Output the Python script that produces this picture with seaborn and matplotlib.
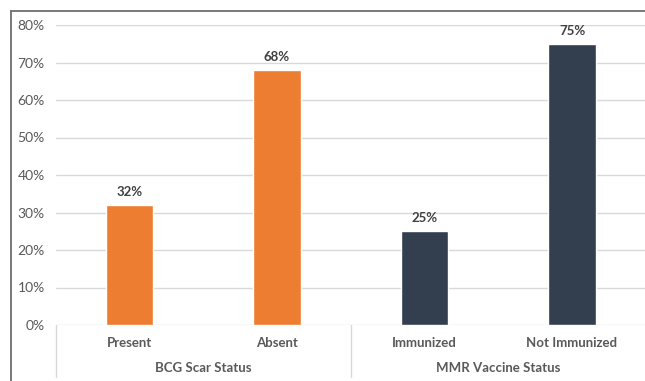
import numpy as np
import pandas as pd
import matplotlib
matplotlib.use("Agg")
import matplotlib.pyplot as plt
from matplotlib.lines import Line2D
import matplotlib.transforms as mtransforms
import seaborn as sns

# dados do grafico
categorias = ["Present", "Absent", "Immunized", "Not Immunized"]
valores = [0.32, 0.68, 0.25, 0.75]
grupos = ["BCG Scar Status", "BCG Scar Status", "MMR Vaccine Status", "MMR Vaccine Status"]
nomes_grupos = ["BCG Scar Status", "MMR Vaccine Status"]
cores = {"BCG Scar Status": "#ED7D31", "MMR Vaccine Status": "#333F4F"}
yticks = [0, 0.1, 0.2, 0.3, 0.4, 0.5, 0.6, 0.7, 0.8]

df = pd.DataFrame({"categoria": categorias, "valor": valores, "grupo": grupos})

sns.set_style("white")
plt.rcParams["font.family"] = ["Lato", "DejaVu Sans"]

W, H = 645, 381
fig = plt.figure(figsize=(W / 100, H / 100), dpi=100)
ax = fig.add_axes([55.75 / W, 56 / H, 590 / W, 300 / H])

sns.barplot(data=df, x="categoria", y="valor", hue="grupo", palette=cores,
            dodge=False, width=0.32, legend=False, ax=ax, saturation=1)

ax.set_xlim(-0.5, 3.5)
ax.set_ylim(0, 0.8)
ax.set_yticks(yticks)
ax.set_yticklabels([f"{int(round(t * 100))}%" for t in yticks], color="#595959", fontsize=10)
ax.tick_params(axis="y", length=0, pad=8)
ax.set_xticks([])
ax.set_xlabel("")
ax.set_ylabel("")
for s in ax.spines.values():
    s.set_visible(False)
ax.grid(axis="y", color="#D9D9D9", linewidth=1)
ax.set_axisbelow(True)

# rotulos de dados
for i, v in enumerate(valores):
    ax.annotate(f"{int(round(v * 100))}%", (i, v), xytext=(0, 5), textcoords="offset points",
                ha="center", va="bottom", fontsize=9.5, fontweight="bold", color="#404040")

# eixo de categorias em dois niveis
trans = mtransforms.blended_transform_factory(ax.transData, ax.transAxes)
for x in [-0.5, 1.5, 3.5]:
    ax.plot([x, x], [0, -52 / 300], transform=trans, color="#D9D9D9", lw=1, clip_on=False)
for i, c in enumerate(categorias):
    ax.text(i, -18 / 300, c, transform=trans, ha="center", va="center",
            fontsize=9.5, fontweight="bold", color="#595959")
for j, g in enumerate(nomes_grupos):
    ax.text(2 * j + 0.5, -43 / 300, g, transform=trans, ha="center", va="center",
            fontsize=9.5, fontweight="bold", color="#595959")

# moldura da imagem (esquerda e topo)
fig.add_artist(Line2D([11 / W, 11 / W], [0, 1 - 11 / H], color="#6E6E6E", lw=1.3))
fig.add_artist(Line2D([11 / W, 1], [1 - 11 / H, 1 - 11 / H], color="#6E6E6E", lw=1.3))

fig.savefig("out.png", dpi=100)
